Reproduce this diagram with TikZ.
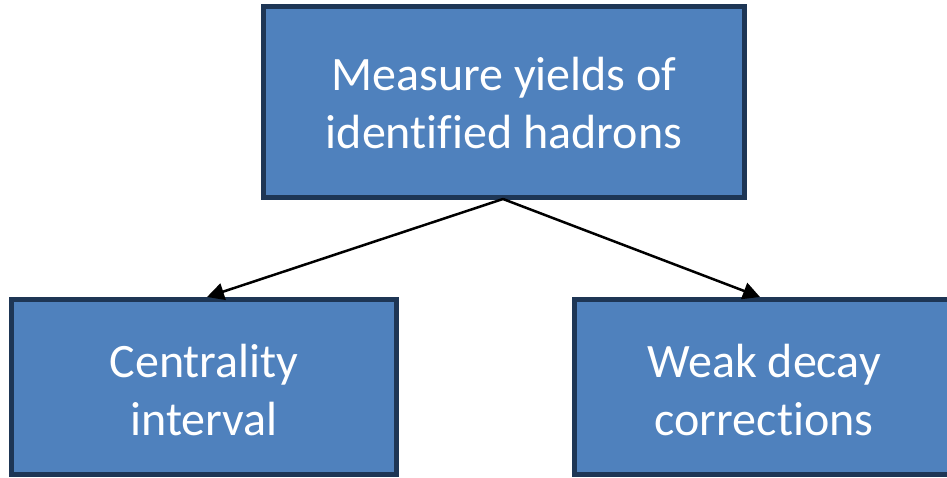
\documentclass[tikz,border=0pt]{standalone}
\usepackage{fontspec}
\setmainfont{Carlito}[Ligatures=NoCommon]
\usetikzlibrary{arrows.meta}
\definecolor{boxfill}{HTML}{4F81BD}
\definecolor{boxline}{HTML}{1E3655}
\tikzset{
  box/.style={draw=boxline, fill=boxfill, line width=5pt, text=white,
    font=\fontsize{48}{58}\selectfont, align=center, inner sep=0pt},
  conn/.style={line width=2.5pt, -{Triangle[length=17pt,width=17pt]}}
}
\begin{document}
\begin{tikzpicture}[x=1pt,y=-1pt]
\useasboundingbox (0,0) rectangle (947,477);
\draw[box] (263.5,6.5) rectangle (744.5,197.5);
\node[box,draw=none,fill=none] (top) at (504,103) {Measure yields of\\identified hadrons};
\draw[box] (11.5,299.5) rectangle (396,474.5);
\node[box,draw=none,fill=none] (left) at (204,390) {Centrality\\interval};
\draw[box] (574,299.5) rectangle (960,474.5);
\node[box,draw=none,fill=none] (right) at (764,390) {Weak decay\\corrections};
\coordinate (s) at (503,199);
\coordinate (l) at (207,297);
\coordinate (r) at (760,297);
\draw[conn] (s) -- (l);
\draw[conn] (s) -- (r);
\end{tikzpicture}
\end{document}
